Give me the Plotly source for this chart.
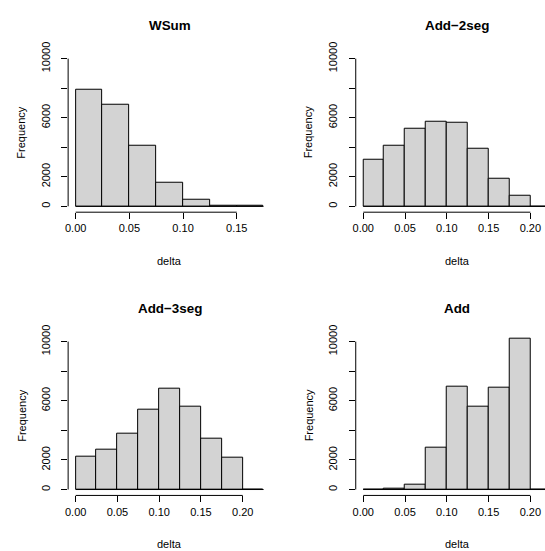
import plotly.graph_objects as go

# ---- data ----
titles = ["WSum", "Add\u22122seg", "Add\u22123seg", "Add"]
edges_wsum = [0.0, 0.025, 0.05, 0.075, 0.10, 0.125, 0.15, 0.175]
counts_wsum = [7920, 6870, 4110, 1610, 420, 60, 15]
edges_add2 = [0.0, 0.025, 0.05, 0.075, 0.10, 0.125, 0.15, 0.175, 0.20, 0.225]
counts_add2 = [3180, 4070, 5240, 5750, 5690, 3920, 1860, 690, 0]
edges_add3 = [0.0, 0.025, 0.05, 0.075, 0.10, 0.125, 0.15, 0.175, 0.20, 0.225]
counts_add3 = [2250, 2670, 3780, 5400, 6820, 5630, 3440, 2140, 0]
edges_add = [0.0, 0.025, 0.05, 0.075, 0.10, 0.125, 0.15, 0.175, 0.20, 0.225]
counts_add = [0, 50, 330, 2800, 6950, 5630, 6910, 10200, 0]

xticks_wsum = [0.0, 0.05, 0.10, 0.15]
xticks_other = [0.0, 0.05, 0.10, 0.15, 0.20]
yticks = [0, 2000, 4000, 6000, 8000, 10000]
ytick_text = ["0", "2000", "", "6000", "", "10000"]

W, H = 545, 551
FONT = "Liberation Sans, Arial, Helvetica, sans-serif"

panels = [
    dict(edges=edges_wsum, counts=counts_wsum, xt=xticks_wsum, xr=[-0.007, 0.182],
         xd=[65.5, 269.6], yd=[42.6, 205.3], tx=167.6, fx=18.3),
    dict(edges=edges_add2, counts=counts_add2, xt=xticks_other, xr=[-0.009, 0.2175],
         xd=[354.7, 545], yd=[42.6, 205.3], tx=456.7, fx=307.5),
    dict(edges=edges_add3, counts=counts_add3, xt=xticks_other, xr=[-0.009, 0.234],
         xd=[65.5, 269.6], yd=[331.3, 494.3], tx=167.6, fx=18.3),
    dict(edges=edges_add, counts=counts_add, xt=xticks_other, xr=[-0.009, 0.2175],
         xd=[354.7, 545], yd=[331.3, 494.3], tx=456.7, fx=307.5),
]

fig = go.Figure()
annotations = []
shapes = []
layout = {}

for i, (p, title) in enumerate(zip(panels, titles)):
    n = i + 1
    xa = "x" if n == 1 else f"x{n}"
    ya = "y" if n == 1 else f"y{n}"
    edges = p["edges"]
    centers = [(edges[k] + edges[k + 1]) / 2 for k in range(len(edges) - 1)]
    widths = [edges[k + 1] - edges[k] for k in range(len(edges) - 1)]
    fig.add_trace(go.Bar(
        x=centers, y=p["counts"], width=widths,
        marker=dict(color="#D3D3D3", line=dict(color="black", width=1)),
        xaxis=xa, yaxis=ya, showlegend=False, hoverinfo="x+y",
    ))
    xkey = "xaxis" if n == 1 else f"xaxis{n}"
    ykey = "yaxis" if n == 1 else f"yaxis{n}"
    layout[xkey] = dict(
        domain=[p["xd"][0] / W, p["xd"][1] / W], range=p["xr"], anchor=ya,
        showgrid=False, zeroline=False, showline=False,
        tickmode="array", tickvals=p["xt"], ticktext=[f"{v:.2f}" for v in p["xt"]],
        ticks="outside", ticklen=6, tickwidth=1, tickcolor="black",
        tickfont=dict(family=FONT, size=11, color="black"), ticklabelstandoff=0,
        fixedrange=True,
    )
    layout[ykey] = dict(
        domain=[1 - p["yd"][1] / H, 1 - p["yd"][0] / H], range=[-400, 10400], anchor=xa,
        showgrid=False, zeroline=False, showline=False,
        tickmode="array", tickvals=yticks, ticktext=ytick_text,
        ticks="outside", ticklen=6, tickwidth=1, tickcolor="black", tickangle=-90,
        tickfont=dict(family=FONT, size=11, color="black"), ticklabelstandoff=7,
        fixedrange=True,
    )
    # R-style axis lines spanning first to last tick
    shapes.append(dict(type="line", xref=f"{xa} domain", yref=ya, x0=0, x1=0,
                       y0=yticks[0], y1=yticks[-1], line=dict(color="black", width=1)))
    shapes.append(dict(type="line", xref=xa, yref=f"{ya} domain", y0=0, y1=0,
                       x0=p["xt"][0], x1=p["xt"][-1], line=dict(color="black", width=1)))
    # histogram baseline
    shapes.append(dict(type="line", xref=xa, yref=ya, y0=0, y1=0,
                       x0=edges[0], x1=edges[-1], line=dict(color="black", width=1)))
    top = p["yd"][0]
    bottom = p["yd"][1]
    annotations.append(dict(text=f"<b>{title}</b>", xref="paper", yref="paper",
                            x=p["tx"] / W, y=1 - (top - 27.6) / H, showarrow=False,
                            xanchor="center", yanchor="middle",
                            font=dict(family=FONT, size=13.4, color="black")))
    annotations.append(dict(text="delta", xref="paper", yref="paper",
                            x=p["tx"] / W, y=1 - (bottom + 49.5) / H, showarrow=False,
                            xanchor="center", yanchor="middle",
                            font=dict(family=FONT, size=11, color="black")))
    annotations.append(dict(text="Frequency", xref="paper", yref="paper",
                            x=p["fx"] / W, y=1 - ((top + bottom) / 2) / H, showarrow=False,
                            xanchor="center", yanchor="middle", textangle=-90,
                            font=dict(family=FONT, size=11, color="black")))

fig.update_layout(
    width=W, height=H, margin=dict(l=0, r=0, t=0, b=0),
    paper_bgcolor="white", plot_bgcolor="white",
    bargap=0, annotations=annotations, shapes=shapes,
    font=dict(family=FONT, color="black"),
    **layout,
)

post = (
    "document.body.style.margin='0px';"
    "document.body.style.overflow='hidden';"
    "var d=document.getElementsByClassName('plotly-graph-div')[0];"
    "d.style.position='absolute';d.style.top='0px';d.style.left='0px';"
)
fig.write_html("out.html", config={"displayModeBar": False},
               post_script=post)
